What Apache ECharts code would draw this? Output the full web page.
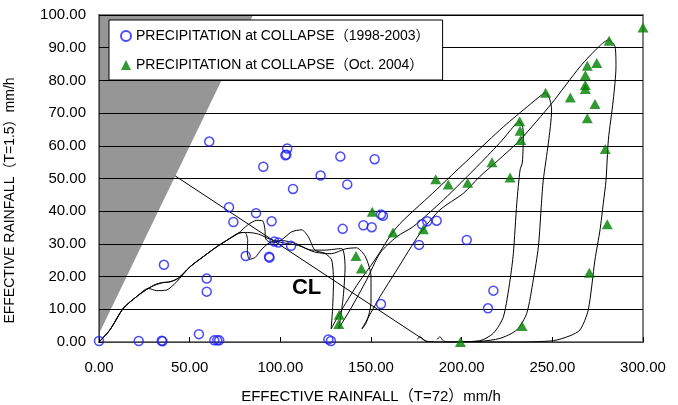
<!DOCTYPE html>
<html>
<head>
<meta charset="utf-8">
<script src="https://cdn.jsdelivr.net/npm/echarts@6/dist/echarts.min.js"></script>
<style>html,body{margin:0;padding:0;background:#fff}#c{width:678px;height:405px}</style>
</head>
<body>
<div id="c"></div>
<script>
const xTicks = [0, 50, 100, 150, 200, 250, 300];
const yTicks = [0, 10, 20, 30, 40, 50, 60, 70, 80, 90, 100];
const seriesNames = ['PRECIPITATION at COLLAPSE（1998-2003）', 'PRECIPITATION at COLLAPSE（Oct. 2004）'];
const xName = 'EFFECTIVE RAINFALL（T=72）mm/h';
const yName = 'EFFECTIVE RAINFALL（T=1.5）mm/h';

const collapse9803 = [[0,0.3],[21.9,0.3],[34.6,0.4],[35,0.2],[55.1,2.4],[63.6,0.5],[65.2,0.5],[66.3,0.5],[35.8,23.6],[59.4,19.4],[59.4,15.4],[60.8,61.3],[71.7,41.2],[74.1,36.7],[80.9,26.3],[86.6,39.4],[90.6,53.6],[93.8,26.1],[94,25.8],[95.2,36.9],[96.7,30.7],[98.9,30.4],[102.8,57.1],[103.3,57.3],[103.8,59.2],[105.9,29.4],[107,46.8],[122.2,50.9],[126.5,0.8],[127.9,0.3],[133.1,56.7],[134.4,34.6],[136.9,48.2],[145.8,35.7],[150.4,35.1],[152,55.9],[155.5,39],[156.6,38.6],[155.5,11.6],[176.5,29.7],[178.1,36],[181,36.9],[186.2,37.1],[202.8,31.2],[214.5,10.3],[217.5,15.7]];

const collapse2004 = [[132.2,5.5],[132.5,8.3],[141.7,26.3],[144.7,22.5],[150.7,39.8],[162.1,33.5],[178.9,34.5],[185.7,49.8],[192.6,48.2],[199.3,0],[203.3,48.7],[216.7,55],[226.7,50.3],[232,67.5],[232.2,64.6],[232.6,61.8],[233.3,4.9],[246.3,76.2],[259.9,74.8],[268.2,77.4],[268.2,78.6],[268.2,81.6],[269.3,84.5],[269.3,68.4],[270.4,21.2],[273.5,72.8],[274.5,85.3],[279.2,59],[280.3,36],[281.3,92.1],[300,96.2]];

const snakeA = [[0,0],[6,3.7],[13.4,10.3],[20.8,13.9],[27.2,16.4],[31,17.6],[35,18.2],[39,18.4],[43.7,19.5],[50.2,23],[57.5,26.1],[64.9,29.1],[72.2,31.7],[77,33.3],[82,35.8],[87,37.2],[90.3,37],[91.5,34.5],[92,31.5],[95,30.3],[100,31],[106.3,33.7],[111.8,34.3],[115.4,32.2],[119.1,28.1],[124.6,27.1],[128.3,25.1],[129.3,18],[128.8,10],[128,4],[134,10],[143,18],[152,25],[164,35],[184,45.5],[205,56.5],[223,65.8],[238,72.8],[244,75.5],[246.3,76.2],[248.7,74],[249.6,70.9],[247.8,60.8],[245,49.5],[244,42.4],[242.3,29.1],[239.5,19],[235.9,8.8],[230.4,3.7],[221.1,1.1],[210,0.2],[195,0],[190,0.3],[188,1.6],[186.5,0.8]];

const snakeB = [[0,0],[6,3.7],[13.4,10.3],[20.8,13.9],[27.2,16.4],[31.8,15.7],[37.3,15.9],[42.8,18.4],[50.2,23],[57.5,26.1],[64.9,29.1],[72.2,31.7],[77,33.3],[80.5,33.5],[82,31],[81.8,27.5],[83,25.3],[86,25.8],[90,28.5],[95,30.7],[101,31],[108.1,30.2],[117.3,28.1],[124.6,28.1],[133.8,28.6],[135.7,23],[134.7,13.9],[132.9,6.2],[132,4],[138.4,9.8],[147.6,19],[155,27.2],[164.2,32.2],[173.3,35.3],[190,43.5],[210,54.5],[222,61.5],[228,65.5],[231.5,67.5],[233.5,66],[234,63.8],[233.5,55],[232.2,52.6],[230.4,42.4],[228.5,27.1],[226.7,19],[223,7.7],[217.5,2.7],[210,0.4],[190,0],[180,0.3],[177,1.6],[175.5,0.8]];

const snakeC = [[0,0],[6,3.7],[13.4,10.3],[20.8,13.9],[27.2,16.4],[31,17.4],[35,18.1],[39.2,18.4],[43.7,19.5],[50.2,23],[57.5,26.1],[64.9,29.1],[72.2,31.7],[77,33.3],[82,33.5],[88,33],[94,31.5],[100,30.5],[110,29.5],[119,27.5],[128,27],[136,28.5],[142,28.8],[147,26],[150,20],[150,12],[147.5,6],[145,4],[150,9],[155,13.9],[164.2,22],[177,33.2],[188,40.4],[201,45.5],[210,50.6],[220,55.5],[232.2,61.8],[249.7,73],[265.3,84.2],[276,90.5],[281,92.4],[284.6,90.3],[285.1,84.2],[283.6,74],[280.9,61.8],[279.6,49.5],[278.1,42.4],[276.3,34.3],[273.5,25.1],[269.8,9.8],[265.3,3.7],[259.7,1.9],[250.5,0.4],[230,0],[210,0],[200,0.2]];

const clLine = [[42,50.8],[181,0]];
const clLabelCoord = [114.5, 16.4];
const greyEdge = [[0,2.5],[85,100]];

const FONT = '"Liberation Sans", Arial, "Noto Sans CJK JP", sans-serif';
const chart = echarts.init(document.getElementById('c'), null, {renderer: 'canvas'});

const curve = (d) => ({
  type: 'line', data: d, smooth: 0.25, symbol: 'none', silent: true, z: 3,
  lineStyle: {color: '#000', width: 1}
});

chart.setOption({
  animation: false,
  backgroundColor: '#fff',
  textStyle: {fontFamily: FONT},
  grid: {left: 99, right: 35, top: 15, bottom: 63, outerBoundsMode: 'none', containLabel: false,
         show: true, borderColor: '#808080', borderWidth: 2, backgroundColor: 'transparent', z: 0},
  legend: {
    data: seriesNames,
    orient: 'vertical', left: 109, top: 20, z: 10,
    padding: [8, 13, 7, 11], itemGap: 13, itemWidth: 10, itemHeight: 10,
    backgroundColor: '#fff', borderColor: '#000', borderWidth: 1,
    textStyle: {fontSize: 14, color: '#000', fontFamily: FONT, lineHeight: 16},
    selectedMode: false
  },
  xAxis: {
    type: 'value', min: xTicks[0], max: xTicks[xTicks.length - 1], interval: 50, z: 2,
    name: xName, nameLocation: 'middle', nameGap: 47,
    nameTextStyle: {fontSize: 15, color: '#000', fontFamily: FONT},
    axisLine: {show: true, onZero: false, lineStyle: {color: '#404040', width: 1}},
    axisTick: {show: true, inside: true, length: 5, lineStyle: {color: '#000'}},
    axisLabel: {fontSize: 15, color: '#000', margin: 18, formatter: v => v.toFixed(2)},
    splitLine: {show: false}
  },
  yAxis: {
    type: 'value', min: yTicks[0], max: yTicks[yTicks.length - 1], interval: 10, z: 2,
    name: yName, nameLocation: 'middle', nameGap: 82, nameRotate: 90,
    nameTextStyle: {fontSize: 14, color: '#000', fontFamily: FONT, padding: [0, 44, 0, 0]},
    axisLine: {show: true, onZero: false, lineStyle: {color: '#404040', width: 1}},
    axisTick: {show: true, inside: true, length: 5, lineStyle: {color: '#000'}},
    axisLabel: {fontSize: 15, color: '#000', margin: 13, formatter: v => v.toFixed(2)},
    splitLine: {show: true, lineStyle: {color: '#000', width: 1}}
  },
  series: [
    {type: 'line', data: greyEdge, symbol: 'none', silent: true, z: 1,
     lineStyle: {width: 0, color: '#969696'}, areaStyle: {color: '#969696', opacity: 1, origin: 'end'}},
    curve(snakeA), curve(snakeB), curve(snakeC),
    {type: 'line', data: clLine, symbol: 'none', silent: true, z: 3,
     lineStyle: {color: '#000', width: 1},
     markPoint: {symbol: 'circle', symbolSize: 0, silent: true, data: [{coord: clLabelCoord,
       label: {show: true, formatter: 'CL', fontSize: 22, fontWeight: 'bold', color: '#000', fontFamily: FONT}}]}},
    {name: seriesNames[0], type: 'scatter', data: collapse9803, symbol: 'circle', symbolSize: 9, z: 4,
     itemStyle: {color: 'rgba(255,255,255,0)', borderColor: '#1e1eff', borderWidth: 1.5}},
    {name: seriesNames[1], type: 'scatter', data: collapse2004, symbol: 'triangle', symbolSize: [11, 10], z: 5,
     itemStyle: {color: '#008000'}}
  ]
});
</script>
</body>
</html>
